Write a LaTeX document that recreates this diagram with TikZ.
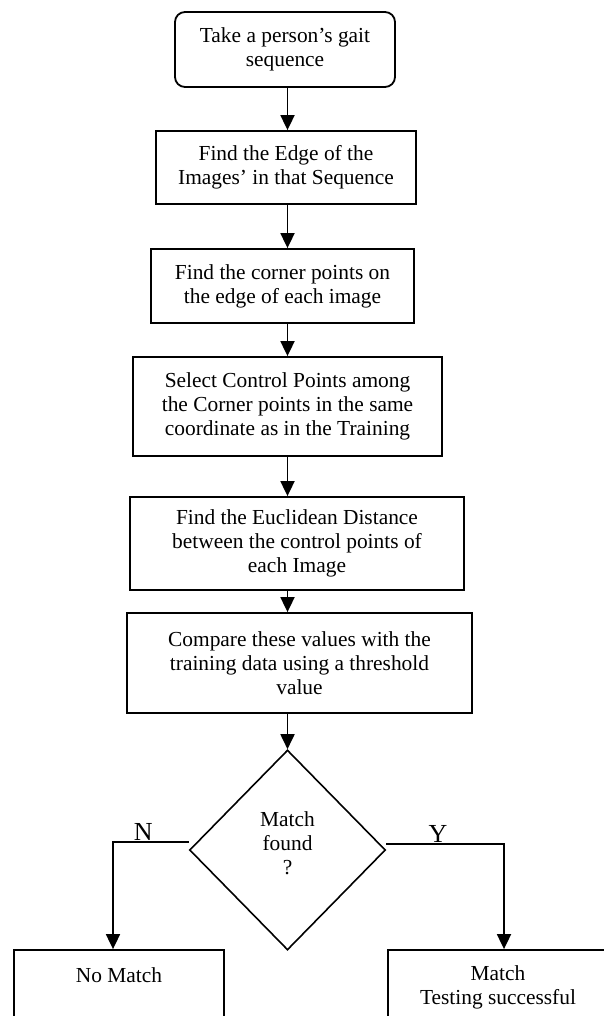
\documentclass[tikz,border=0pt]{standalone}
\usepackage{fontspec}
\setmainfont{Liberation Serif}
\usetikzlibrary{shapes.geometric,arrows.meta}

\tikzset{
  stepbox/.style={draw, line width=0.9pt, align=center, inner sep=0pt},
  startbox/.style={stepbox, rounded corners=5pt},
  decision/.style={draw, diamond, line width=0.8pt, inner sep=0pt,
    minimum width=98pt, minimum height=100pt},
  arr/.style={line width=0.9pt, -{Triangle[length=7.5pt,width=7pt]}},
  branchlabel/.style={above, inner sep=0.5pt, font=\fontsize{13}{14}\selectfont},
}

\begin{document}
\begin{tikzpicture}[x=0.5pt, y=-0.5pt, font=\fontsize{10.7}{12}\selectfont]

% Page frame
\useasboundingbox (0,0) rectangle (604,1016);
\clip (0,0) rectangle (604,1016);

% Steps
\node[startbox, minimum width=110pt, minimum height=37.5pt] (take) at (285,49.5)
  {Take a person’s gait\\sequence};
\node[stepbox, minimum width=130pt, minimum height=36.5pt] (edge) at (286,167.5)
  {Find the Edge of the\\Images’ in that Sequence};
\node[stepbox, minimum width=131.5pt, minimum height=37pt] (corner) at (282.5,286)
  {Find the corner points on\\the edge of each image};
\node[stepbox, minimum width=154.5pt, minimum height=49.5pt] (select) at (287.5,406.5)
  {Select Control Points among\\the Corner points in the same\\coordinate as in the Training};
\node[stepbox, minimum width=167pt, minimum height=46.5pt] (dist) at (297,543.5)
  {Find the Euclidean Distance\\between the control points of\\each Image};
\node[stepbox, minimum width=172.5pt, minimum height=50pt] (comp) at (299.5,663)
  {Compare these values with the\\training data using a threshold\\value};

% Decision
\node[decision, label={[align=center, yshift=3.5pt]center:Match\\found\\?}] (found) at (287.5,850) {};

% Results
\node[stepbox, minimum width=105pt, minimum height=37.5pt] (nomatch) at (119,987.5)
  {No Match\\~};
\node[stepbox, minimum width=110pt, minimum height=37.5pt] (match) at (498,987.5)
  {Match\\Testing successful};

% Flow
\draw[arr] (take.south -| found.north) -- (edge.north -| found.north);
\draw[arr] (edge.south -| found.north) -- (corner.north -| found.north);
\draw[arr] (corner.south -| found.north) -- (select.north -| found.north);
\draw[arr] (select.south -| found.north) -- (dist.north -| found.north);
\draw[arr] (dist.south -| found.north) -- (comp.north -| found.north);
\draw[arr] (comp.south -| found.north) -- (found.north);

% Branches
\draw[arr] ([yshift=4pt]found.west) -| node[pos=0.3, branchlabel] {N}
  ([xshift=-3pt]nomatch.north);
\draw[arr] ([yshift=3pt]found.east) -| node[pos=0.22, branchlabel] {Y}
  ([xshift=3pt]match.north);

\end{tikzpicture}
\end{document}
